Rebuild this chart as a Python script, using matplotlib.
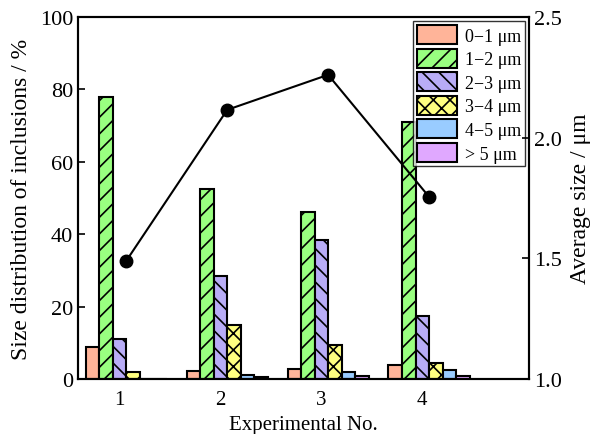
import numpy as np
import matplotlib
matplotlib.use("Agg")
import matplotlib.pyplot as plt

plt.rcParams['font.family'] = ['Liberation Serif', 'DejaVu Serif']
plt.rcParams['hatch.linewidth'] = 1.2

# data
experiments = [1, 2, 3, 4]
size_labels = ['0\u22121 \u03bcm', '1\u22122 \u03bcm', '2\u22123 \u03bcm', '3\u22124 \u03bcm', '4\u22125 \u03bcm', '> 5 \u03bcm']
dist_0_1 = [8.8, 2.3, 2.8, 3.8]
dist_1_2 = [78.0, 52.5, 46.2, 71.0]
dist_2_3 = [11.0, 28.5, 38.5, 17.5]
dist_3_4 = [2.0, 15.0, 9.5, 4.5]
dist_4_5 = [0.0, 1.2, 2.0, 2.5]
dist_gt5 = [0.0, 0.5, 1.0, 0.8]
avg_size = [1.49, 2.115, 2.26, 1.755]

series = [dist_0_1, dist_1_2, dist_2_3, dist_3_4, dist_4_5, dist_gt5]
colors = ['#FFB499', '#99FF80', '#B8ACF6', '#FFFF80', '#99CCFF', '#E0A8FF']
hatches = ['', '//', '\\\\', 'xx', '', '']

fig = plt.figure(figsize=(5.92, 4.35), dpi=100)
ax = fig.add_axes([0.132, 0.126, 0.762, 0.833])

x = np.array(experiments, dtype=float)
w = 0.134
for k, vals in enumerate(series):
    ax.bar(x + (k - 2) * w, vals, width=w, color=colors[k], edgecolor='black',
           linewidth=1.5, hatch=hatches[k], label=size_labels[k])

ax.set_xlim(0.59, 5.06)
ax.set_ylim(0, 100)
ax.set_xticks(experiments)
ax.set_yticks([0, 20, 40, 60, 80, 100])
ax.set_xlabel('Experimental No.', fontsize=15, labelpad=4)
ax.set_ylabel('Size distribution of inclusions / %', fontsize=17, labelpad=6)
ax.tick_params(direction='in', labelsize=16, width=1.2, length=5)
ax.tick_params(axis='x', length=0, pad=8, labelsize=15)
for s in ax.spines.values():
    s.set_linewidth(1.5)

leg = ax.legend(loc='upper right', fontsize=13, frameon=True, fancybox=False,
                edgecolor='black', handlelength=2.2, handleheight=1.25,
                labelspacing=0.22, borderpad=0.2, handletextpad=0.45,
                borderaxespad=0.25)
leg.get_frame().set_linewidth(1.0)

ax2 = ax.twinx()
ax2.plot(x + 0.5 * w, avg_size, color='black', marker='o', markersize=9, linewidth=1.5)
ax2.set_ylim(1.0, 2.5)
ax2.set_yticks([1.0, 1.5, 2.0, 2.5])
ax2.set_ylabel('Average size / \u03bcm', fontsize=17, labelpad=6)
ax2.tick_params(direction='in', labelsize=16, width=1.2, length=5)
for s in ax2.spines.values():
    s.set_linewidth(1.5)

fig.savefig('out.png', dpi=100)
